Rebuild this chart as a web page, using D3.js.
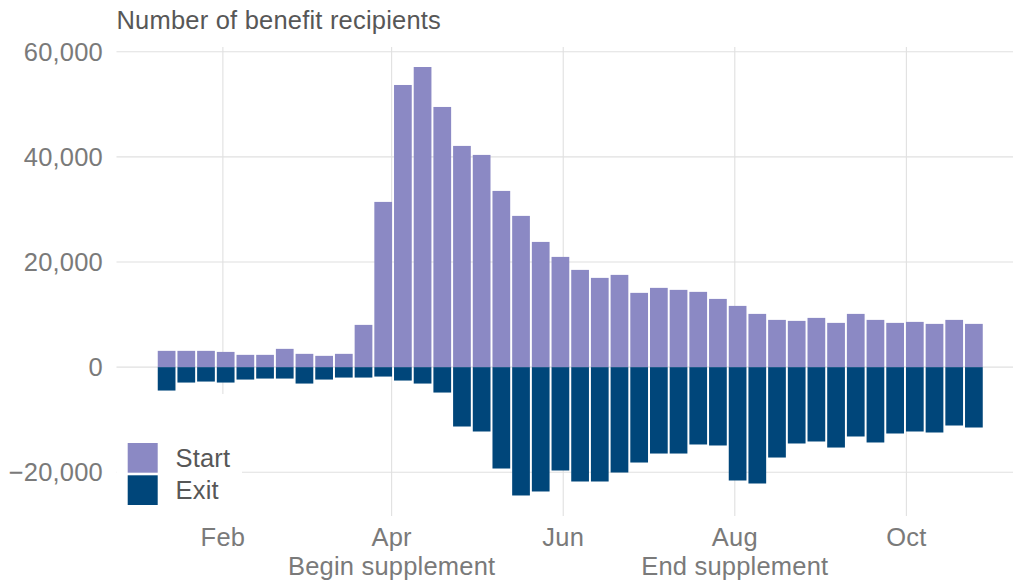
<!DOCTYPE html>
<html>
<head>
<meta charset="utf-8">
<script src="https://cdn.jsdelivr.net/npm/d3@7"></script>
<style>
  html, body { margin: 0; padding: 0; background: #fff; }
  svg { display: block; font-family: "Liberation Sans", Arial, Helvetica, sans-serif; }
</style>
</head>
<body>
<svg id="chart" width="1013" height="584"></svg>
<script>
// ---- Data ----
const weeks = [
  "2020-01-12","2020-01-19","2020-01-26","2020-02-02","2020-02-09","2020-02-16","2020-02-23",
  "2020-03-01","2020-03-08","2020-03-15","2020-03-22","2020-03-29","2020-04-05","2020-04-12",
  "2020-04-19","2020-04-26","2020-05-03","2020-05-10","2020-05-17","2020-05-24","2020-05-31",
  "2020-06-07","2020-06-14","2020-06-21","2020-06-28","2020-07-05","2020-07-12","2020-07-19",
  "2020-07-26","2020-08-02","2020-08-09","2020-08-16","2020-08-23","2020-08-30","2020-09-06",
  "2020-09-13","2020-09-20","2020-09-27","2020-10-04","2020-10-11","2020-10-18","2020-10-25"
];
const startValues = [
  3100, 3100, 3100, 2900, 2340, 2340, 3480, 2530, 2150, 2530, 8040,
  31430, 53670, 57090, 49490, 42080, 40370, 33520, 28770, 23820, 20970,
  18500, 16980, 17550, 14130, 15080, 14700, 14320, 12980, 11650, 10130,
  8990, 8800, 9370, 8420, 10130, 8990, 8420, 8610, 8230, 8990, 8230
];
const exitValues = [
  -4450, -2930, -2740, -2930, -2360, -2170, -2170, -3120, -2360, -1980, -1980,
  -1790, -2550, -3120, -4830, -11290, -12240, -19280, -24410, -23650, -19660,
  -21750, -21750, -20040, -18140, -16430, -16430, -14710, -14900, -21560, -22130,
  -17190, -14520, -14140, -15290, -13190, -14330, -12620, -12240, -12430, -11100, -11480
];
const seriesNames = ["Start", "Exit"];
const seriesColors = ["#8b89c4", "#00467a"];
const yTicks = [-20000, 0, 20000, 40000, 60000];
const xTickDates = ["2020-02-01","2020-04-01","2020-06-01","2020-08-01","2020-10-01"];
const xTickLabels = [["Feb"], ["Apr", "Begin supplement"], ["Jun"], ["Aug", "End supplement"], ["Oct"]];
const title = "Number of benefit recipients";

// ---- Layout ----
const panel = { left: 116.5, right: 1024, top: 47, bottom: 516 };
const DAY = 864e5;
const FS = 25.5;
const LS = "0.2px";
const parse = d3.timeParse("%Y-%m-%d");
const dates = weeks.map(parse);

const halfBar = 0.45 * 7 * DAY;
const ext = d3.extent(dates);
const lo = +ext[0] - halfBar, hi = +ext[1] + halfBar;
const pad = (hi - lo) * 0.05;

const x = d3.scaleTime()
  .domain([new Date(lo - pad), new Date(hi + pad)])
  .range([panel.left, panel.right]);

const y = d3.scaleLinear()
  .domain([-20000, 60000])
  .range([472.3, 51.7]);

const svg = d3.select("#chart");
const gridColor = "#e0e0e0";
const axisText = "#7a7a7a";
const darkText = "#575757";

// gridlines
svg.append("g").selectAll("line").data(yTicks).join("line")
  .attr("x1", panel.left).attr("x2", 1013)
  .attr("y1", d => y(d)).attr("y2", d => y(d))
  .attr("stroke", gridColor).attr("stroke-width", 1.1);

svg.append("g").selectAll("line").data(xTickDates).join("line")
  .attr("x1", d => x(parse(d))).attr("x2", d => x(parse(d)))
  .attr("y1", panel.top).attr("y2", panel.bottom)
  .attr("stroke", gridColor).attr("stroke-width", 1.1);

// bars
const bw = x(new Date(+dates[0] + halfBar)) - x(new Date(+dates[0] - halfBar));
const barsG = svg.append("g");
barsG.selectAll("rect.start").data(startValues).join("rect")
  .attr("class", "start")
  .attr("x", (d, i) => x(dates[i]) - bw / 2)
  .attr("width", bw)
  .attr("y", d => y(d))
  .attr("height", d => y(0) - y(d))
  .attr("fill", seriesColors[0]);
barsG.selectAll("rect.exit").data(exitValues).join("rect")
  .attr("class", "exit")
  .attr("x", (d, i) => x(dates[i]) - bw / 2)
  .attr("width", bw)
  .attr("y", y(0))
  .attr("height", d => y(d) - y(0))
  .attr("fill", seriesColors[1]);

// y axis labels
const fmt = v => (v < 0 ? "\u2212" : "") + d3.format(",")(Math.abs(v));
svg.append("g").selectAll("text").data(yTicks).join("text")
  .attr("x", 103).attr("y", d => y(d))
  .attr("dy", "0.36em")
  .attr("text-anchor", "end")
  .attr("font-size", FS)
  .attr("letter-spacing", LS)
  .attr("fill", axisText)
  .text(fmt);

// x axis labels
const xl = svg.append("g").selectAll("text").data(xTickDates).join("text")
  .attr("text-anchor", "middle")
  .attr("font-size", FS)
  .attr("letter-spacing", LS)
  .attr("fill", axisText)
  .attr("transform", d => `translate(${x(parse(d))},0)`);
xl.each(function(d, i) {
  const t = d3.select(this);
  xTickLabels[i].forEach((line, j) => {
    t.append("tspan").attr("x", 0).attr("y", 546 + j * 28.5).text(line);
  });
});

// title
svg.append("text")
  .attr("x", 116.5).attr("y", 29)
  .attr("font-size", FS)
  .attr("letter-spacing", LS)
  .attr("fill", darkText)
  .text(title);

// legend
const lg = svg.append("g");
lg.append("rect").attr("x", panel.left).attr("y", 394).attr("width", 242 - panel.left).attr("height", panel.bottom - 394 + 1).attr("fill", "#fff");
seriesNames.forEach((name, i) => {
  lg.append("rect")
    .attr("x", 127.7).attr("y", 443 + i * 32.3)
    .attr("width", 30).attr("height", 29.7)
    .attr("fill", seriesColors[i]);
  lg.append("text")
    .attr("x", 175.5).attr("y", 467 + i * 32)
    .attr("font-size", FS)
    .attr("letter-spacing", LS)
    .attr("fill", darkText)
    .text(name);
});
</script>
</body>
</html>
